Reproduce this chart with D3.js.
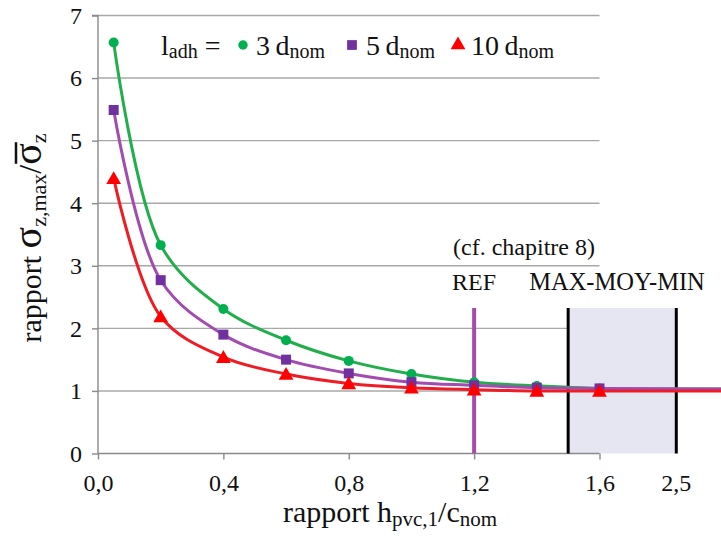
<!DOCTYPE html>
<html>
<head>
<meta charset="utf-8">
<script src="https://cdn.jsdelivr.net/npm/d3@7"></script>
<style>
  html, body { margin: 0; padding: 0; background: #fff; }
  svg { display: block; font-family: "Liberation Serif", "Times New Roman", serif; }
</style>
</head>
<body>
<svg id="chart" width="721" height="536"></svg>
<script>
// ---- data ----
const xValues = [0.05, 0.2, 0.4, 0.6, 0.8, 1.0, 1.2, 1.4, 1.6];
const seriesNames = ["3", "5", "10"];
const values3dnom  = [6.57, 3.33, 2.31, 1.81, 1.48, 1.27, 1.14, 1.08, 1.04];
const values5dnom  = [5.49, 2.77, 1.90, 1.50, 1.28, 1.14, 1.09, 1.05, 1.04];
const values10dnom = [4.40, 2.19, 1.54, 1.27, 1.12, 1.05, 1.02, 1.00, 1.00];
// continuation of the curves past the last marker (right part of the broken axis)
const tailX = 2.0;
const tailValues = [1.03, 1.03, 1.00];
const xTicks = [0, 0.4, 0.8, 1.2, 1.6];
const yTicks = [0, 1, 2, 3, 4, 5, 6, 7];
// broken-axis label "2,5" and its position on the plotted scale
const extraTickLabel = "2,5";
const extraTickPos = 1.845;
const refX = 1.2;
const rangeMaxMoyMin = [1.5, 1.845];

// ---- layout ----
const svg = d3.select("#chart");
const x = d3.scaleLinear().domain([0, 1.6]).range([98, 599.5]);
const y = d3.scaleLinear().domain([0, 7]).range([453.5, 15.5]);
const lineColors = ["#22AE4B", "#A24BB0", "#EE1C25"];
const markColors = ["#00B050", "#7030A0", "#FF0000"];
const gridColor = "#A8A8A8";
const axisColor = "#8A8A8A";

// gridlines
svg.append("g").selectAll("line").data(yTicks.filter(d => d > 0)).join("line")
  .attr("x1", x(0)).attr("x2", x(1.6))
  .attr("y1", d => y(d)).attr("y2", d => y(d))
  .attr("stroke", gridColor).attr("stroke-width", 1.4);

// shaded MAX-MOY-MIN zone
const annTop = 308;
svg.append("rect")
  .attr("x", x(rangeMaxMoyMin[0])).attr("y", annTop)
  .attr("width", x(rangeMaxMoyMin[1]) - x(rangeMaxMoyMin[0]))
  .attr("height", y(0) - annTop)
  .attr("fill", "#E6E6F2");

// axes
const yAxis = d3.axisLeft(y).tickValues(yTicks).tickSize(6).tickPadding(10).tickFormat(d3.format("d"));
const gy = svg.append("g").attr("transform", `translate(${x(0)},0)`).call(yAxis);
gy.select(".domain").attr("stroke", axisColor).attr("stroke-width", 1.4).attr("d", `M-6,${y(7)}H0V${y(0)}`);
gy.selectAll(".tick line").attr("stroke", axisColor).attr("stroke-width", 1.4);
gy.selectAll(".tick text").attr("font-size", 24).attr("fill", "#111")
  .attr("font-family", "Liberation Serif, serif").attr("dy", "0.33em");

const xAxis = d3.axisBottom(x).tickValues(xTicks).tickSize(6).tickPadding(14)
  .tickFormat(d => d3.format(".1f")(d).replace(".", ","));
const gx = svg.append("g").attr("transform", `translate(0,${y(0)})`).call(xAxis);
gx.select(".domain").attr("stroke", axisColor).attr("stroke-width", 1.4).attr("d", `M${x(0)},0H${x(1.6)}`);
gx.selectAll(".tick line").attr("stroke", axisColor).attr("stroke-width", 1.4);
gx.selectAll(".tick text").attr("font-size", 24).attr("fill", "#111")
  .attr("font-family", "Liberation Serif, serif").attr("dy", "0.72em");
gx.append("text").attr("x", x(extraTickPos)).attr("y", 20).attr("dy", "0.72em")
  .attr("text-anchor", "middle").attr("font-size", 24).attr("fill", "#111")
  .attr("font-family", "Liberation Serif, serif").text(extraTickLabel);

// boundary lines of the zone
svg.append("g").selectAll("line").data(rangeMaxMoyMin).join("line")
  .attr("x1", d => x(d)).attr("x2", d => x(d))
  .attr("y1", annTop).attr("y2", y(0))
  .attr("stroke", "#000").attr("stroke-width", 3);

// REF vertical line
svg.append("line")
  .attr("x1", x(refX)).attr("x2", x(refX))
  .attr("y1", annTop).attr("y2", y(0))
  .attr("stroke", "#A64CA8").attr("stroke-width", 4);

// annotations
svg.append("text").attr("x", 524).attr("y", 255).attr("text-anchor", "middle")
  .attr("font-size", 24).attr("fill", "#111").text("(cf. chapitre 8)");
svg.append("text").attr("x", x(refX)).attr("y", 290).attr("text-anchor", "middle")
  .attr("font-size", 24).attr("fill", "#111").text("REF");
svg.append("text").attr("x", 617).attr("y", 290).attr("text-anchor", "middle")
  .attr("font-size", 24.5).attr("fill", "#111").text("MAX-MOY-MIN");

// series
const allValues = [values3dnom, values5dnom, values10dnom];
const line = d3.line().x(d => x(d[0])).y(d => y(d[1])).curve(d3.curveCatmullRom.alpha(0.5));
const symbols = [d3.symbolCircle, d3.symbolSquare, d3.symbolTriangle];
const symSizes = [78, 100, 95];

allValues.forEach((vals, i) => {
  const pts = xValues.map((xv, j) => [xv, vals[j]]).concat([[tailX, tailValues[i]]]);
  svg.append("path").attr("d", line(pts)).attr("fill", "none")
    .attr("stroke", lineColors[i]).attr("stroke-width", 3);
  svg.append("g").selectAll("path").data(xValues.map((xv, j) => [xv, vals[j]])).join("path")
    .attr("transform", d => `translate(${x(d[0])},${y(d[1]) + (i === 2 ? 1.5 : 0)})`)
    .attr("d", d3.symbol().type(symbols[i]).size(symSizes[i]))
    .attr("fill", markColors[i]);
});

// legend
const legY = 55;
const leg = svg.append("g").attr("font-size", 28).attr("fill", "#111");
const t0 = leg.append("text").attr("x", 161).attr("y", legY);
t0.append("tspan").text("l");
t0.append("tspan").attr("font-size", 20).attr("dy", 3).text("adh");
t0.append("tspan").attr("dy", -3).text(" =");
const legX = [243, 352, 458];
const legTextX = [256, 366, 471];
seriesNames.forEach((n, i) => {
  leg.append("path").attr("transform", `translate(${legX[i]},${legY - 10})`)
    .attr("d", d3.symbol().type(symbols[i]).size(i === 0 ? 70 : 95)).attr("fill", markColors[i]);
  const t = leg.append("text").attr("x", legTextX[i]).attr("y", legY);
  t.append("tspan").text(n + "\u2009d");
  t.append("tspan").attr("font-size", 20).attr("dy", 3).text("nom");
});

// x axis title
const xt = svg.append("text").attr("x", 390).attr("y", 522).attr("text-anchor", "middle")
  .attr("font-size", 30).attr("fill", "#111");
xt.append("tspan").text("rapport h");
xt.append("tspan").attr("font-size", 21).attr("dy", 4).text("pvc,1");
xt.append("tspan").attr("dy", -4).text("/c");
xt.append("tspan").attr("font-size", 21).attr("dy", 4).text("nom");

// y axis title
const ytg = svg.append("g").attr("transform", "translate(41,238) rotate(-90)");
const yt = ytg.append("text")
  .attr("text-anchor", "middle").attr("font-size", 30).attr("fill", "#111");
yt.append("tspan").text("rapport ");
yt.append("tspan").attr("font-size", 40).text("σ");
yt.append("tspan").attr("font-size", 22).attr("dy", 5).text("z,max");
yt.append("tspan").attr("font-size", 32).attr("dy", -5).text("/");
yt.append("tspan").attr("font-size", 40).text("σ");
yt.append("tspan").attr("font-size", 22).attr("dy", 5).text("z");
// overline over the second sigma (mean value)
const ext = yt.node().getExtentOfChar(15);
ytg.append("line")
  .attr("x1", ext.x + 1).attr("x2", ext.x + ext.width + 1)
  .attr("y1", -25).attr("y2", -25)
  .attr("stroke", "#111").attr("stroke-width", 2.5);
</script>
</body>
</html>
